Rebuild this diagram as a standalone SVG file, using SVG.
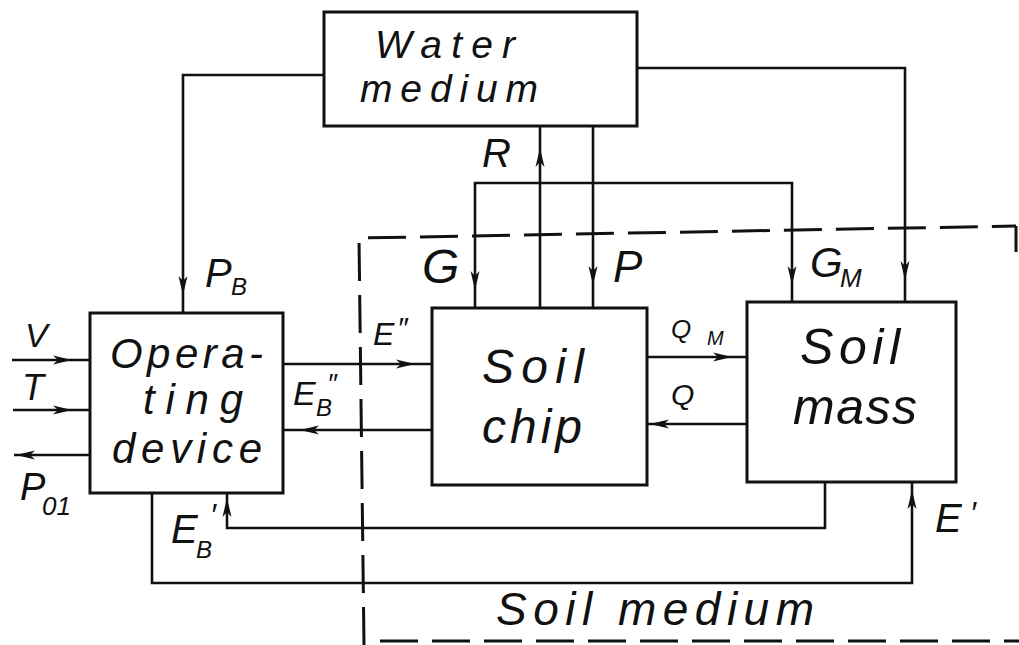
<svg xmlns="http://www.w3.org/2000/svg" xmlns:xlink="http://www.w3.org/1999/xlink" width="1019" height="645" viewBox="0 0 1019 645">
<style>
.box{fill:none;stroke:#111;stroke-width:3}
.ln{fill:none;stroke:#111;stroke-width:2.6}
.dash{fill:none;stroke:#111;stroke-width:3;stroke-dasharray:38 14}
.t{font-family:"Liberation Sans","DejaVu Sans",sans-serif;font-style:italic;fill:#111}
.ah{fill:#111}
</style>
<defs>
<path id="ah" d="M0,0 L-19,-4.5 L-14,0 L-19,4.5 Z"/>
</defs>
<rect width="1019" height="645" fill="#fff"/>
<g id="boundary">
<path class="dash" d="M364 645 L359 238 L1016 226"/>
<path class="ln" d="M1016 226 V252" style="stroke-width:3"/>
<path class="dash" d="M380 641 H1019"/>
</g>
<g id="water-medium">
<rect class="box" x="324" y="12" width="313" height="114"/>
<text class="t" x="375" y="58" font-size="39" textLength="140">Water</text>
<text class="t" x="360" y="102" font-size="39" textLength="178">medium</text>
</g>
<g id="operating-device">
<rect class="box" x="90" y="313" width="193" height="180"/>
<text class="t" x="110" y="368" font-size="42" textLength="153">Opera-</text>
<text class="t" x="143" y="414" font-size="42" textLength="100">ting</text>
<text class="t" x="112" y="463" font-size="42" textLength="150">device</text>
</g>
<g id="soil-chip">
<rect class="box" x="432" y="308" width="215" height="177"/>
<text class="t" x="482" y="383" font-size="48" textLength="102">Soil</text>
<text class="t" x="482" y="443" font-size="48" textLength="100">chip</text>
</g>
<g id="soil-mass">
<rect class="box" x="747" y="302" width="209" height="180"/>
<text class="t" x="800" y="364" font-size="50" textLength="100">Soil</text>
<text class="t" x="793" y="424" font-size="50" textLength="124">mass</text>
</g>
<g id="soil-medium">
<text class="t" x="496" y="625" font-size="46" textLength="318">Soil medium</text>
</g>
<g id="connectors">
<path class="ln" d="M324 75 H183 V313"/>
<path class="ln" d="M637 68 H905 V302"/>
<path class="ln" d="M540 308 V126"/>
<path class="ln" d="M593 126 V308"/>
<path class="ln" d="M475 308 V183 H792 V302"/>
<path class="ln" d="M12 360 H90"/>
<path class="ln" d="M13 410 H90"/>
<path class="ln" d="M90 455 H14"/>
<path class="ln" d="M283 364 H432"/>
<path class="ln" d="M432 430 H283"/>
<path class="ln" d="M647 357 H747"/>
<path class="ln" d="M747 424 H647"/>
<path class="ln" d="M825 482 V528 H227 V493"/>
<path class="ln" d="M152 493 V583 H912 V482"/>
<use class="ah" xlink:href="#ah" transform="translate(183,295) rotate(90)"/>
<use class="ah" xlink:href="#ah" transform="translate(905,280) rotate(90)"/>
<use class="ah" xlink:href="#ah" transform="translate(540,148) rotate(-90)"/>
<use class="ah" xlink:href="#ah" transform="translate(593,285) rotate(90)"/>
<use class="ah" xlink:href="#ah" transform="translate(475,290) rotate(90)"/>
<use class="ah" xlink:href="#ah" transform="translate(792,285) rotate(90)"/>
<use class="ah" xlink:href="#ah" transform="translate(72,360)"/>
<use class="ah" xlink:href="#ah" transform="translate(72,410)"/>
<use class="ah" xlink:href="#ah" transform="translate(16,455) rotate(180)"/>
<use class="ah" xlink:href="#ah" transform="translate(415,364)"/>
<use class="ah" xlink:href="#ah" transform="translate(300,430) rotate(180)"/>
<use class="ah" xlink:href="#ah" transform="translate(732,357)"/>
<use class="ah" xlink:href="#ah" transform="translate(650,424) rotate(180)"/>
<use class="ah" xlink:href="#ah" transform="translate(227,498) rotate(-90)"/>
<use class="ah" xlink:href="#ah" transform="translate(912,490) rotate(-90)"/>
</g>
<g id="labels">
<text class="t" x="205" y="287" font-size="40">P</text>
<text class="t" x="231" y="295" font-size="24">B</text>
<text class="t" x="482" y="167" font-size="40">R</text>
<text class="t" x="422" y="283" font-size="48">G</text>
<text class="t" x="613" y="282" font-size="44">P</text>
<text class="t" x="810" y="277" font-size="42">G</text>
<text class="t" x="840" y="287" font-size="26">M</text>
<text class="t" x="373" y="345" font-size="32">E</text>
<text class="t" x="397" y="338" font-size="30">″</text>
<text class="t" x="293" y="405" font-size="34">E</text>
<text class="t" x="316" y="416" font-size="24">B</text>
<text class="t" x="327" y="393" font-size="28">″</text>
<text class="t" x="25" y="347" font-size="34">V</text>
<text class="t" x="22" y="400" font-size="36">T</text>
<text class="t" x="20" y="500" font-size="38">P</text>
<text class="t" x="42" y="515" font-size="26">01</text>
<text class="t" x="171" y="543" font-size="40">E</text>
<text class="t" x="196" y="558" font-size="24">B</text>
<text class="t" x="210" y="526" font-size="32">′</text>
<text class="t" x="671" y="338" font-size="26">Q</text>
<text class="t" x="707" y="345" font-size="20">M</text>
<text class="t" x="671" y="405" font-size="30">Q</text>
<text class="t" x="935" y="532" font-size="40">E</text>
<text class="t" x="970" y="524" font-size="32">′</text>
</g>
</svg>
